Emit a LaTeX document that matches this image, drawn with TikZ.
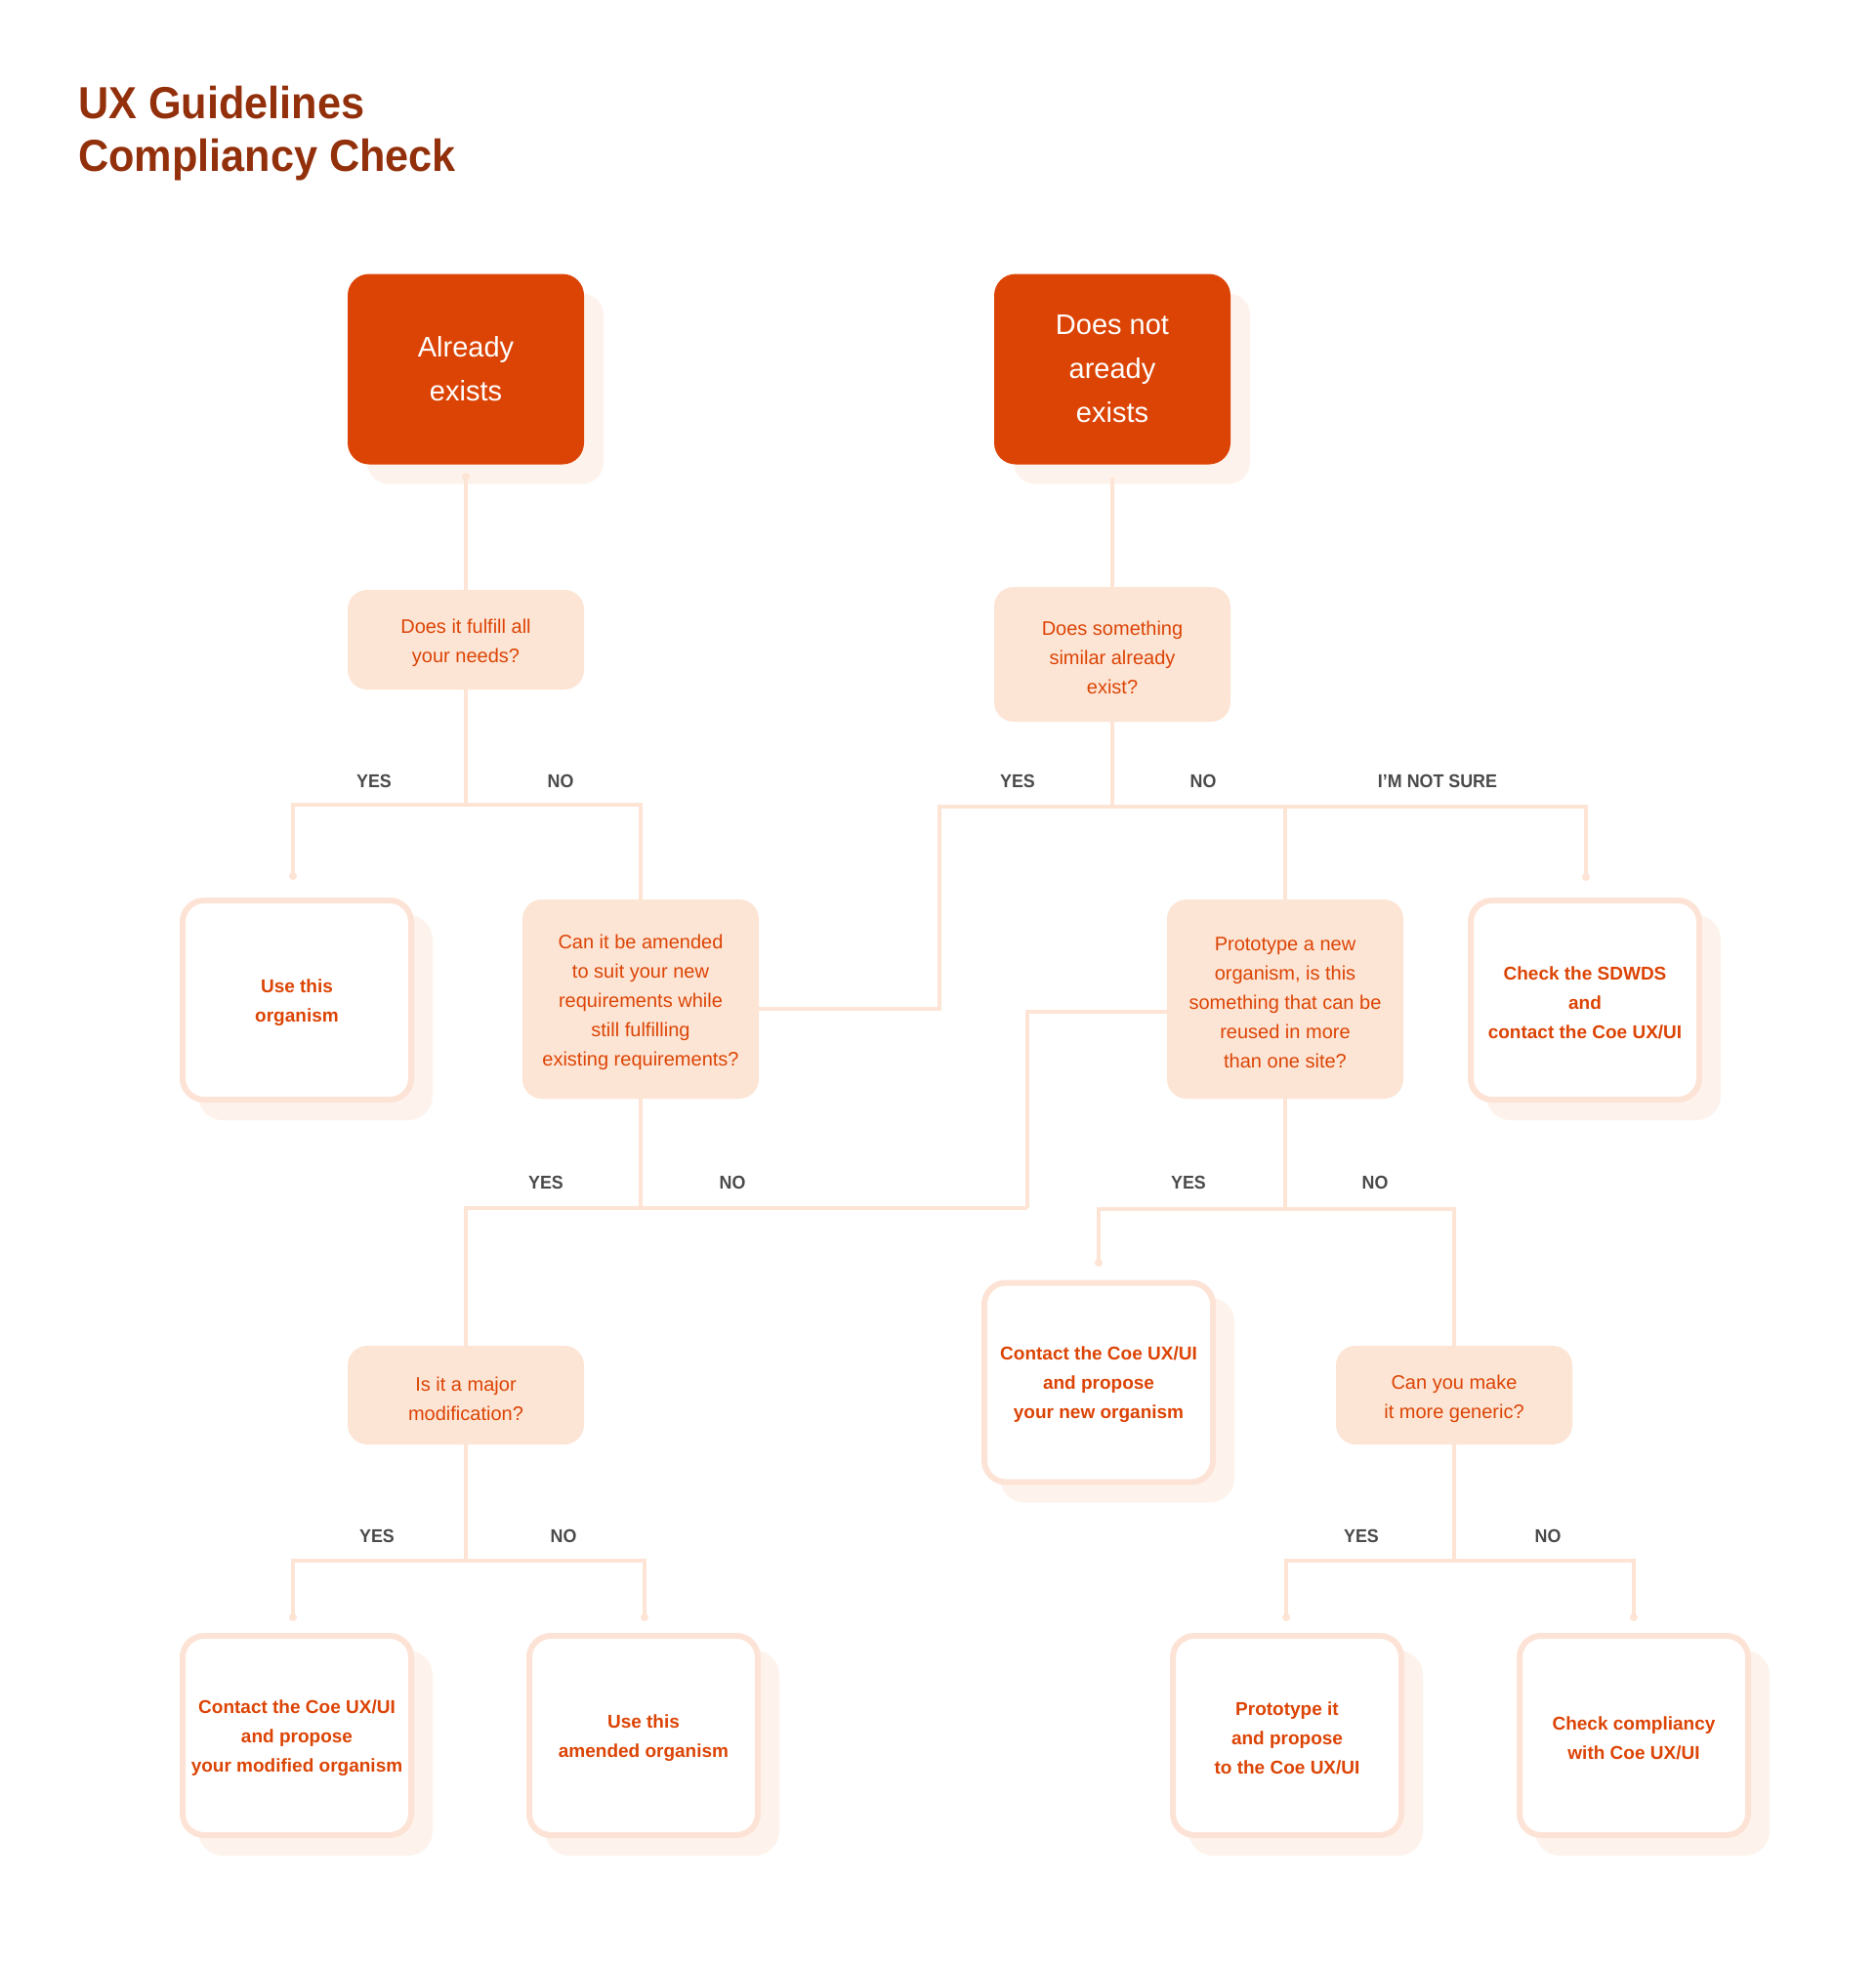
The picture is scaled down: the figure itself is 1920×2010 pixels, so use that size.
\documentclass[tikz,border=0pt]{standalone}
\usepackage{fontspec}
\setmainfont{Liberation Sans}
\newfontfamily\condfont{Liberation Sans}[FakeStretch=0.94]
\usetikzlibrary{shadows}
\definecolor{mainc}{HTML}{DC4405}
\definecolor{titlec}{HTML}{93300C}
\definecolor{qfill}{HTML}{FDE5D5}
\definecolor{linec}{HTML}{FDE4D5}
\definecolor{rborder}{HTML}{FDE3D6}
\definecolor{shadowc}{HTML}{FEF3EC}
\definecolor{labelc}{HTML}{4A4A4A}
\newcommand\qstrut{\rule{0pt}{22pt}}
\newcommand\rstrut{\rule{0pt}{18.5pt}}
\begin{document}
\begin{tikzpicture}[x=1pt,y=-1pt,
  mainbox/.style={rectangle, rounded corners=22pt, fill=mainc, minimum width=242pt,
    minimum height=195pt, inner sep=0pt, align=center, text=white,
    font=\fontsize{29}{45}\selectfont,
    drop shadow={shadow xshift=20pt, shadow yshift=-20pt, opacity=1, fill=shadowc}},
  qbox/.style={rectangle, rounded corners=20pt, fill=qfill, minimum width=242pt,
    inner sep=0pt, align=center, text=mainc, font=\fontsize{20}{30}\selectfont},
  rbox/.style={rectangle, rounded corners=22pt, draw=rborder, line width=6pt, fill=white,
    minimum width=234pt, minimum height=204pt, inner sep=0pt, align=center, text=mainc,
    font=\bfseries\fontsize{19}{30}\selectfont,
    drop shadow={shadow xshift=19pt, shadow yshift=-18pt, opacity=1, fill=shadowc,
      draw=shadowc, line width=6pt}},
  lab/.style={text=labelc, font=\condfont\bfseries\fontsize{19}{19}\selectfont,
    anchor=base, inner sep=0pt},
  conn/.style={draw=linec, line width=4pt},
  dotfill/.style={fill=linec}
]
\fill[white] (0,0) rectangle (1920,2010);
\useasboundingbox (0,0) rectangle (1920,2010);

% title
\node[anchor=north west, inner sep=0pt, align=left, text=titlec,
  font=\condfont\bfseries\fontsize{46}{54}\selectfont] (title) at (80,87.5)
  {UX Guidelines\\Compliancy Check};

% main boxes
\node[mainbox] (a) at (477,378) {Already\\exists};
\node[mainbox] (b) at (1139,378) {Does not\\aready\\exists};

% question boxes
\node[qbox, minimum height=102pt] (q1) at (477,655) {\qstrut Does it fulfill all\\your needs?};
\node[qbox, minimum height=138pt] (q3) at (1139,670) {\qstrut Does something\\similar already\\exist?};
\node[qbox, minimum height=204pt] (q2) at (656,1023) {\qstrut Can it be amended\\to suit your new\\requirements while\\still fulfilling\\existing requirements?};
\node[qbox, minimum height=204pt] (q4) at (1316,1023) {\qstrut Prototype a new\\organism, is this\\something that can be\\reused in more\\than one site?};
\node[qbox, minimum height=101pt] (q5) at (477,1428.5) {\qstrut Is it a major\\modification?};
\node[qbox, minimum height=101pt] (q6) at (1489,1428.5) {\qstrut Can you make\\it more generic?};

% result boxes
\node[rbox] (r1) at (304,1024) {\rstrut Use this\\organism};
\node[rbox] (r2) at (1623,1024) {\rstrut Check the SDWDS\\and\\contact the Coe UX/UI};
\node[rbox] (r3) at (1125,1415.5) {\rstrut Contact the Coe UX/UI\\and propose\\your new organism};
\node[rbox] (r4) at (304,1777) {\rstrut Contact the Coe UX/UI\\and propose\\your modified organism};
\node[rbox] (r5) at (659,1777) {\rstrut Use this\\amended organism};
\node[rbox] (r6) at (1318,1777) {\rstrut Prototype it\\and propose\\to the Coe UX/UI};
\node[rbox] (r7) at (1673,1777) {\rstrut Check compliancy\\with Coe UX/UI};

% coordinates
\coordinate (as) at (477,488);
\coordinate (bs) at (1139,489);
\coordinate (j1) at (477,824);
\coordinate (j2) at (1139,826);
\coordinate (k2) at (962,826);
\coordinate (k2b) at (962,1033);
\coordinate (j3) at (656,1237);
\coordinate (k3) at (1052,1237);
\coordinate (j4) at (1316,1238);
\coordinate (j5) at (477,1598);
\coordinate (j6) at (1489,1598);
\coordinate (d1) at (300,897);
\coordinate (d2) at (1624,898);
\coordinate (d3) at (1125,1293);
\coordinate (d4) at (300,1656);
\coordinate (d5) at (660,1656);
\coordinate (d6) at (1317,1656);
\coordinate (d7) at (1673,1656);

% connectors
\draw[conn] (as) -- (q1.north);
\draw[conn] (bs) -- (q3.north);
\draw[conn] (q1.south) -- (j1);
\draw[conn] (d1) |- (j1) -| (q2.north);
\draw[conn] (q3.south) -- (j2);
\draw[conn] (j2) -- (k2) -- (k2b) -- ([yshift=-10pt]q2.east);
\draw[conn] (j2) -| (d2);
\draw[conn] (j2) -| (q4.north);
\draw[conn] (q2.south) -- (j3);
\draw[conn] ([yshift=-13pt]q4.west) -| (k3);
\draw[conn] (k3) -| (q5.north);
\draw[conn] (q4.south) -- (j4);
\draw[conn] (d3) |- (j4) -| (q6.north);
\draw[conn] (q5.south) -- (j5);
\draw[conn] (d4) |- (j5) -| (d5);
\draw[conn] (q6.south) -- (j6);
\draw[conn] (d6) |- (j6) -| (d7);

% dots
\foreach \d in {as,d1,d2,d3,d4,d5,d6,d7} \fill[dotfill] (\d) circle[radius=4pt];

% labels
\node[lab] (l1y) at (383,806) {YES};
\node[lab] (l1n) at (574,806) {NO};
\node[lab] (l2y) at (1042,806) {YES};
\node[lab] (l2n) at (1232,806) {NO};
\node[lab] (l2s) at (1472,806) {I’M NOT SURE};
\node[lab] (l3y) at (559,1217) {YES};
\node[lab] (l3n) at (750,1217) {NO};
\node[lab] (l4y) at (1217,1217) {YES};
\node[lab] (l4n) at (1408,1217) {NO};
\node[lab] (l5y) at (386,1579) {YES};
\node[lab] (l5n) at (577,1579) {NO};
\node[lab] (l6y) at (1394,1579) {YES};
\node[lab] (l6n) at (1585,1579) {NO};
\end{tikzpicture}
\end{document}
